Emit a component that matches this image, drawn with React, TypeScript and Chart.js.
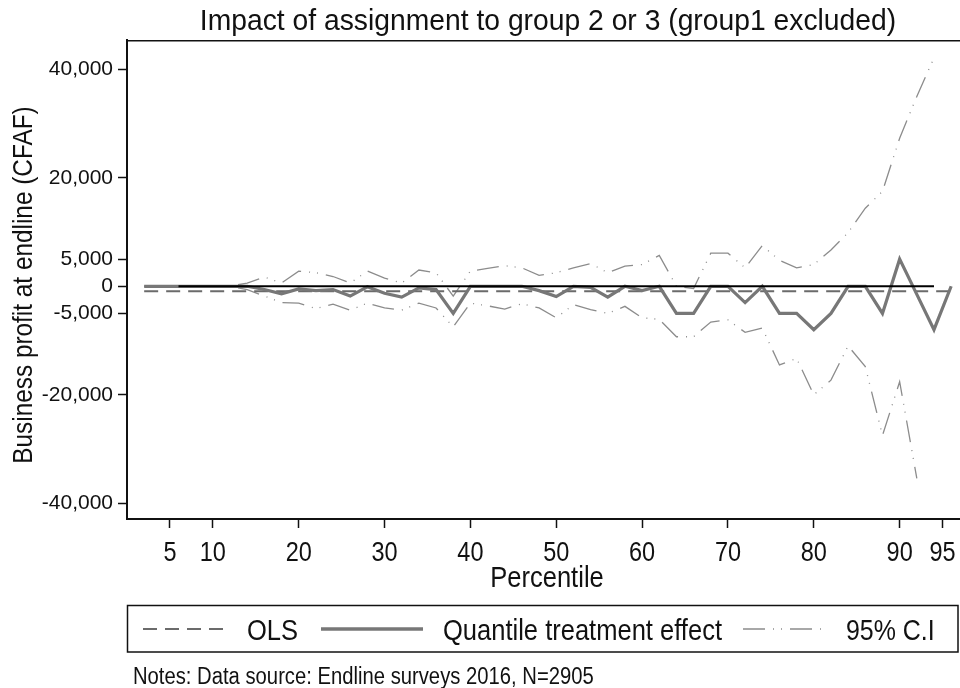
import React, { useEffect, useRef } from "react";
import { Chart, registerables } from "chart.js";

Chart.register(...registerables);

// ---- data ----
const titleText = "Impact of assignment to group 2 or 3 (group1 excluded)";
const yTitle = "Business profit at endline (CFAF)";
const xTitle = "Percentile";
const notesText = "Notes: Data source: Endline surveys 2016, N=2905";
const legendLabels = ["OLS", "Quantile treatment effect", "95% C.I"];

const percentiles = [
  2, 4, 6, 8, 10, 12, 14, 16, 18, 20, 22, 24, 26, 28, 30, 32, 34, 36, 38, 40, 42, 44, 46, 48,
  50, 52, 54, 56, 58, 60, 62, 64, 66, 68, 70, 72, 74, 76, 78, 80, 82, 84, 86, 88, 90, 92, 94, 96,
];

const qte = [
  0, 0, 0, 0, 0, 0, 0, -600, -1400, -500, -800, -600, -1800, -100, -1300, -2000, -300, -600, -5000, 0, 0, 0, 0, -800,
  -1900, 0, -200, -2000, 0, -800, 0, -5000, -5000, 0, 0, -3000, 0, -5000, -5000, -8000, -5000, 0, 0, -5000, 5000, -1500, -8000, 0,
];

const ciUpper = [
  0, 0, 0, 0, 0, 0, 600, 1700, 600, 2800, 2500, 1800, 600, 2800, 1500, 600, 3000, 2500, -1800, 2800, 3300, 3800, 3400, 2000,
  2500, 3400, 4200, 2500, 3700, 4000, 5700, 0, -400, 6100, 6100, 3400, 7500, 4800, 3400, 4000, 6700, 9900, 14400, 17500, 27300, 35000, 42100, null,
];

const ciLower = [
  0, 0, 0, 0, 0, 0, -600, -1800, -3000, -3100, -4100, -3300, -4400, -3100, -4000, -4400, -3100, -4000, -7500, -3100, -3600, -4200, -3200, -4000,
  -5800, -3400, -4300, -5000, -3700, -5800, -6100, -9300, -9300, -6600, -6200, -8500, -7700, -14500, -13300, -20000, -17300, -11000, -14800, -27500, -17600, -35400, null, null,
];

const olsX = [2, 96];
const olsY = [-900, -900];
const zeroX = [6, 94];
const zeroY = [0, 0];

const xTicks = [5, 10, 20, 30, 40, 50, 60, 70, 80, 90, 95];
const yTicks = [-40000, -20000, -5000, 0, 5000, 20000, 40000];

// ---- styles ----
const FONT = '"Liberation Sans", Arial, Helvetica, sans-serif';
const TEXT = "#111111";
const OLS_COLOR = "#6b6b6b";
const QTE_COLOR = "#777777";
const CI_COLOR = "#8c8c8c";
const OLS_DASH = [14, 8];
const CI_DASH = [22, 8, 1, 7, 1, 8];

function pts(xs: number[], ys: (number | null)[]) {
  return xs.map((x, i) => ({ x, y: ys[i] }));
}

function drawText(
  ctx: CanvasRenderingContext2D,
  text: string,
  x: number,
  y: number,
  size: number,
  k: number,
  align: CanvasTextAlign,
  rotate = 0
) {
  ctx.save();
  ctx.translate(x, y);
  if (rotate) ctx.rotate(rotate);
  ctx.scale(k, 1);
  ctx.font = `${size}px ${FONT}`;
  ctx.fillStyle = TEXT;
  ctx.textAlign = align;
  ctx.textBaseline = "alphabetic";
  ctx.fillText(text, 0, 0);
  ctx.restore();
}

const decorPlugin = {
  id: "decor",
  afterDraw(chart: any) {
    const ctx: CanvasRenderingContext2D = chart.ctx;
    const area = chart.chartArea;
    const xs = chart.scales.x;

    // plot region top outline
    ctx.save();
    ctx.strokeStyle = "#111";
    ctx.lineWidth = 1.5;
    ctx.beginPath();
    ctx.moveTo(area.left, area.top + 0.75);
    ctx.lineTo(area.right, area.top + 0.75);
    ctx.stroke();
    ctx.restore();

    // title
    drawText(ctx, titleText, 548, 30, 29, 0.975, "center");
    // y title
    drawText(ctx, yTitle, 32, 285, 28, 0.87, "center", -Math.PI / 2);
    // x tick labels
    xs.ticks.forEach((t: any) => {
      const px = xs.getPixelForValue(t.value);
      drawText(ctx, String(t.value), px, 561, 27, 0.87, "center");
    });
    // x title
    drawText(ctx, xTitle, 547, 587, 29, 0.88, "center");

    // legend box
    ctx.save();
    ctx.strokeStyle = "#111";
    ctx.lineWidth = 1.5;
    ctx.strokeRect(127.5, 605.5, 830.5, 46.5);
    const ly = 629;
    // OLS sample
    ctx.strokeStyle = OLS_COLOR;
    ctx.lineWidth = 2;
    ctx.setLineDash(OLS_DASH);
    ctx.beginPath();
    ctx.moveTo(143, ly);
    ctx.lineTo(228, ly);
    ctx.stroke();
    // QTE sample
    ctx.setLineDash([]);
    ctx.strokeStyle = QTE_COLOR;
    ctx.lineWidth = 3.5;
    ctx.beginPath();
    ctx.moveTo(321, ly);
    ctx.lineTo(423, ly);
    ctx.stroke();
    // CI sample
    ctx.strokeStyle = CI_COLOR;
    ctx.lineWidth = 1.3;
    ctx.setLineDash(CI_DASH);
    ctx.beginPath();
    ctx.moveTo(743, ly);
    ctx.lineTo(826, ly);
    ctx.stroke();
    ctx.restore();

    drawText(ctx, legendLabels[0], 247, 640, 29, 0.88, "left");
    drawText(ctx, legendLabels[1], 443, 640, 29, 0.88, "left");
    drawText(ctx, legendLabels[2], 846, 640, 29, 0.86, "left");

    // notes
    drawText(ctx, notesText, 133, 684, 23, 0.88, "left");
  },
};

export default function App() {
  const ref = useRef<HTMLCanvasElement | null>(null);

  useEffect(() => {
    if (!ref.current) return;
    const chart = new Chart(ref.current, {
      type: "line",
      data: {
        datasets: [
          {
            label: "zero",
            data: pts(zeroX, zeroY),
            borderColor: "#000",
            borderWidth: 2,
            pointRadius: 0,
            order: 0,
          },
          {
            label: legendLabels[1],
            data: pts(percentiles, qte),
            borderColor: QTE_COLOR,
            borderWidth: 3.2,
            pointRadius: 0,
            borderJoinStyle: "miter",
            order: 1,
          },
          {
            label: legendLabels[0],
            data: pts(olsX, olsY),
            borderColor: OLS_COLOR,
            borderWidth: 2,
            borderDash: OLS_DASH,
            pointRadius: 0,
            order: 2,
          },
          {
            label: "upper",
            data: pts(percentiles, ciUpper),
            borderColor: CI_COLOR,
            borderWidth: 1.3,
            borderDash: CI_DASH,
            pointRadius: 0,
            spanGaps: false,
            order: 3,
          },
          {
            label: "lower",
            data: pts(percentiles, ciLower),
            borderColor: CI_COLOR,
            borderWidth: 1.3,
            borderDash: CI_DASH,
            pointRadius: 0,
            spanGaps: false,
            order: 4,
          },
        ],
      },
      options: {
        responsive: false,
        animation: false,
        devicePixelRatio: 1,
        layout: { padding: { top: 40, left: 0, right: 0, bottom: 119 } },
        plugins: {
          legend: { display: false },
          title: { display: false },
          tooltip: { enabled: false },
        },
        elements: { line: { tension: 0 } },
        scales: {
          x: {
            type: "linear",
            min: 0,
            max: 97.03,
            afterBuildTicks: (s: any) => {
              s.ticks = xTicks.map((v) => ({ value: v }));
            },
            afterFit: (s: any) => {
              s.height = 50;
            },
            ticks: { display: false },
            grid: {
              drawOnChartArea: false,
              drawTicks: true,
              tickLength: 9,
              tickWidth: 1.5,
              tickColor: "#111",
            },
            border: { display: true, color: "#111", width: 2 },
          },
          y: {
            type: "linear",
            min: -42900,
            max: 45400,
            afterBuildTicks: (s: any) => {
              s.ticks = yTicks.map((v) => ({ value: v }));
            },
            afterFit: (s: any) => {
              s.width = 127;
            },
            ticks: {
              color: TEXT,
              padding: 5,
              font: { family: FONT, size: 21 },
              callback: (v: any) => Number(v).toLocaleString("en-US"),
            },
            grid: {
              drawOnChartArea: false,
              drawTicks: true,
              tickLength: 9,
              tickWidth: 1.5,
              tickColor: "#111",
            },
            border: { display: true, color: "#111", width: 2 },
          },
        },
      },
      plugins: [decorPlugin],
    } as any);
    return () => chart.destroy();
  }, []);

  return (
    <div style={{ position: "absolute", left: 0, top: 0, width: 960, height: 688, background: "#fff" }}>
      <canvas ref={ref} width={960} height={688} style={{ width: 960, height: 688, display: "block" }} />
    </div>
  );
}
